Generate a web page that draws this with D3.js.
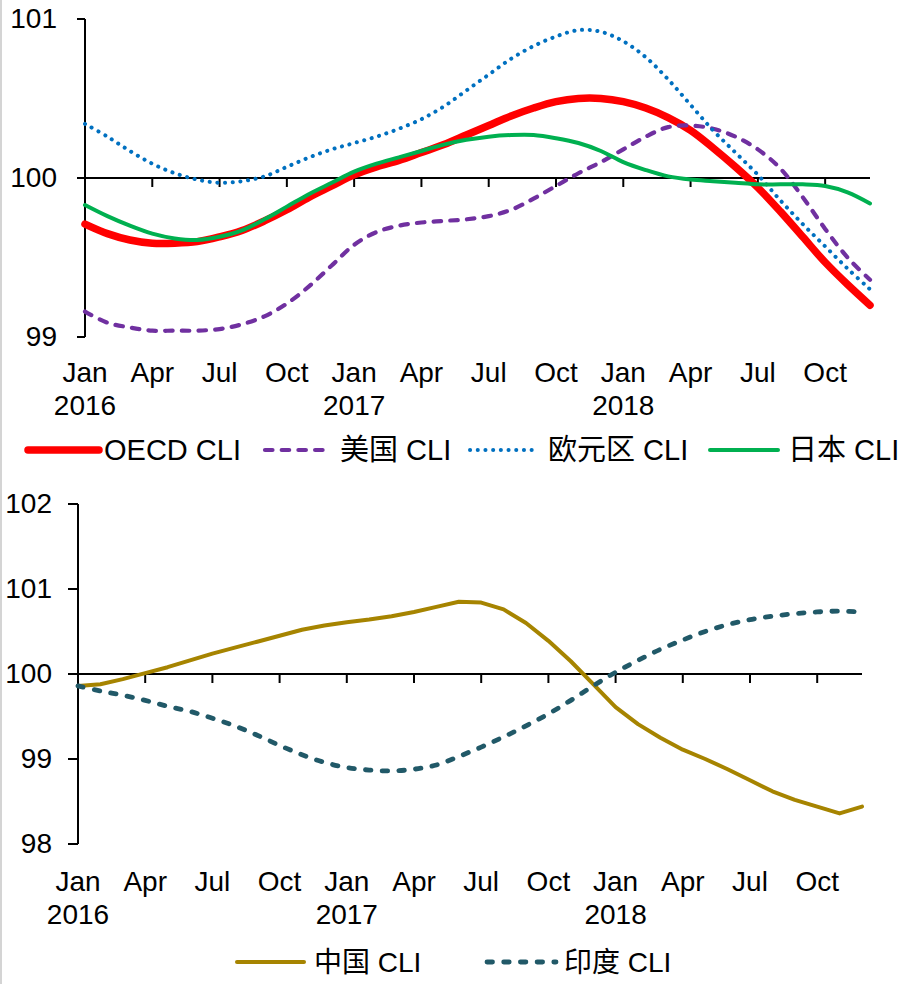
<!DOCTYPE html>
<html>
<head>
<meta charset="utf-8">
<script src="https://cdn.jsdelivr.net/npm/d3@7"></script>
<style>
  html, body { margin: 0; padding: 0; background: #fff; }
  svg { display: block; }
  text { font-family: "Liberation Sans", Arial, "Noto Sans CJK SC", sans-serif; fill: #000; }
</style>
</head>
<body>
<svg id="chart" width="898" height="984"></svg>
<script>
// Monthly observations, Jan 2016 – Dec 2018
const months = [
  "2016-01","2016-02","2016-03","2016-04","2016-05","2016-06",
  "2016-07","2016-08","2016-09","2016-10","2016-11","2016-12",
  "2017-01","2017-02","2017-03","2017-04","2017-05","2017-06",
  "2017-07","2017-08","2017-09","2017-10","2017-11","2017-12",
  "2018-01","2018-02","2018-03","2018-04","2018-05","2018-06",
  "2018-07","2018-08","2018-09","2018-10","2018-11","2018-12"
];
const tickMonths = ["2016-01","2016-04","2016-07","2016-10","2017-01","2017-04",
                    "2017-07","2017-10","2018-01","2018-04","2018-07","2018-10"];
const monthNames = { "01": "Jan", "04": "Apr", "07": "Jul", "10": "Oct" };

// Composite leading indicators (amplitude adjusted, long-term average = 100)
const oecdCLI = [99.71,99.65,99.61,99.59,99.59,99.60,99.63,99.67,99.73,99.80,99.88,99.95,
                 100.02,100.07,100.11,100.16,100.21,100.27,100.33,100.39,100.44,100.48,100.50,100.50,
                 100.48,100.44,100.38,100.30,100.19,100.07,99.94,99.79,99.63,99.47,99.33,99.20];
const usCLI   = [99.16,99.09,99.06,99.04,99.04,99.04,99.05,99.08,99.13,99.21,99.32,99.45,
                 99.58,99.66,99.70,99.72,99.73,99.74,99.76,99.80,99.87,99.95,100.03,100.10,
                 100.18,100.26,100.32,100.33,100.31,100.26,100.18,100.06,99.88,99.68,99.50,99.36];
const euroCLI = [100.34,100.26,100.17,100.09,100.03,99.99,99.97,99.98,100.01,100.07,100.13,100.18,
                 100.22,100.26,100.31,100.37,100.45,100.55,100.65,100.75,100.83,100.89,100.93,100.92,
                 100.86,100.76,100.62,100.46,100.30,100.16,100.02,99.86,99.71,99.57,99.43,99.30];
const japanCLI = [99.83,99.76,99.70,99.65,99.62,99.61,99.63,99.67,99.74,99.82,99.90,99.97,
                  100.04,100.09,100.13,100.17,100.21,100.24,100.26,100.27,100.27,100.25,100.22,100.17,
                  100.10,100.05,100.01,99.99,99.98,99.97,99.96,99.96,99.96,99.95,99.91,99.84];
const chinaCLI = [99.86,99.88,99.94,100.01,100.08,100.16,100.24,100.31,100.38,100.45,100.52,100.57,
                  100.61,100.64,100.68,100.73,100.79,100.85,100.84,100.76,100.60,100.39,100.15,99.88,
                  99.61,99.41,99.25,99.11,99.00,98.88,98.75,98.62,98.52,98.44,98.36,98.44];
const indiaCLI = [99.86,99.80,99.75,99.69,99.62,99.56,99.48,99.39,99.28,99.16,99.05,98.96,
                  98.90,98.87,98.86,98.88,98.93,99.03,99.14,99.26,99.39,99.53,99.69,99.86,
                  100.02,100.16,100.29,100.40,100.50,100.58,100.64,100.68,100.71,100.73,100.74,100.73];

const topTicks = [99, 100, 101];
const bottomTicks = [98, 99, 100, 101, 102];

const svg = d3.select("#chart");

// thin frame line on the left edge
svg.append("line")
  .attr("x1", 1).attr("x2", 1).attr("y1", 0).attr("y2", 984)
  .attr("stroke", "#d4d4d4").attr("stroke-width", 2);

function drawPanel(cfg) {
  const g = svg.append("g");
  const x = d3.scalePoint().domain(months).range([cfg.left, cfg.right]);
  const y = d3.scaleLinear().domain(cfg.yDomain).range([cfg.bottom, cfg.top]);

  // value axis
  const yAxis = g.append("g")
    .attr("transform", `translate(${cfg.left},0)`)
    .call(d3.axisLeft(y).tickValues(cfg.yTicks).tickFormat(d3.format("d"))
      .tickSize(cfg.yTickSize).tickSizeOuter(0).tickPadding(cfg.yPad).offset(0));
  yAxis.attr("font-family", null);
  yAxis.select(".domain").attr("stroke", "#000").attr("stroke-width", 2);
  yAxis.selectAll(".tick line").attr("stroke", "#000").attr("stroke-width", 2);
  yAxis.selectAll("text").attr("font-size", cfg.font);

  // category axis crossing at 100
  const xAxis = g.append("g")
    .attr("transform", `translate(0,${y(100)})`)
    .call(d3.axisBottom(x).tickValues(tickMonths).tickFormat("")
      .tickSize(9).tickSizeOuter(0).offset(0));
  xAxis.select(".domain").attr("stroke", "#000").attr("stroke-width", 2);
  xAxis.selectAll(".tick line").attr("stroke", "#000").attr("stroke-width", 2);

  // category labels sit below the plot
  const lab = g.append("g");
  tickMonths.forEach(m => {
    const [yr, mo] = m.split("-");
    lab.append("text")
      .attr("x", x(m)).attr("y", cfg.labelY)
      .attr("text-anchor", "middle").attr("font-size", cfg.font)
      .text(monthNames[mo]);
    if (mo === "01") {
      lab.append("text")
        .attr("x", x(m)).attr("y", cfg.labelY + 33)
        .attr("text-anchor", "middle").attr("font-size", cfg.font)
        .text(yr);
    }
  });

  // series
  cfg.series.forEach(s => {
    const line = d3.line()
      .x((d, i) => x(months[i]))
      .y(d => y(d))
      .curve(s.curve);
    g.append("path")
      .datum(s.values)
      .attr("fill", "none")
      .attr("stroke", s.color)
      .attr("stroke-width", s.width)
      .attr("stroke-dasharray", s.dash)
      .attr("stroke-linecap", s.cap)
      .attr("stroke-linejoin", "round")
      .attr("d", line);
  });

  // legend
  const lg = g.append("g");
  cfg.series.forEach(s => {
    lg.append("line")
      .attr("x1", s.legend[0]).attr("x2", s.legend[1])
      .attr("y1", cfg.legendY).attr("y2", cfg.legendY)
      .attr("stroke", s.color).attr("stroke-width", s.width)
      .attr("stroke-dasharray", s.dash).attr("stroke-linecap", s.cap);
    lg.append("text")
      .attr("x", s.legend[2]).attr("y", cfg.legendY + 10)
      .attr("font-size", cfg.legendFont)
      .text(s.name);
  });
}

drawPanel({
  left: 85, right: 870, top: 19, bottom: 337,
  yDomain: [99, 101], yTicks: topTicks, yTickSize: 8, yPad: 20,
  labelY: 382, legendY: 450, font: 28, legendFont: 29,
  series: [
    { name: "OECD CLI", values: oecdCLI, color: "#ff0000", width: 7.5, dash: null, cap: "round",
      curve: d3.curveCatmullRom, legend: [28, 99, 104] },
    { name: "美国 CLI", values: usCLI, color: "#7030a0", width: 4.2, dash: "7.5,9.2", cap: "round",
      curve: d3.curveCatmullRom, legend: [265, 330, 340] },
    { name: "欧元区 CLI", values: euroCLI, color: "#0070c0", width: 4, dash: "0.1,7.6", cap: "round",
      curve: d3.curveCatmullRom, legend: [470, 533, 548] },
    { name: "日本 CLI", values: japanCLI, color: "#00b050", width: 4, dash: null, cap: "round",
      curve: d3.curveCatmullRom, legend: [710, 778, 788] }
  ]
});

drawPanel({
  left: 78, right: 862, top: 504, bottom: 844,
  yDomain: [98, 102], yTicks: bottomTicks, yTickSize: 10, yPad: 16,
  labelY: 891, legendY: 962, font: 28, legendFont: 28,
  series: [
    { name: "中国 CLI", values: chinaCLI, color: "#a68400", width: 4, dash: null, cap: "round",
      curve: d3.curveLinear, legend: [237, 304, 314] },
    { name: "印度 CLI", values: indiaCLI, color: "#215968", width: 4.8, dash: "5.5,11.2", cap: "round",
      curve: d3.curveCatmullRom, legend: [487, 556, 564] }
  ]
});
</script>
</body>
</html>
